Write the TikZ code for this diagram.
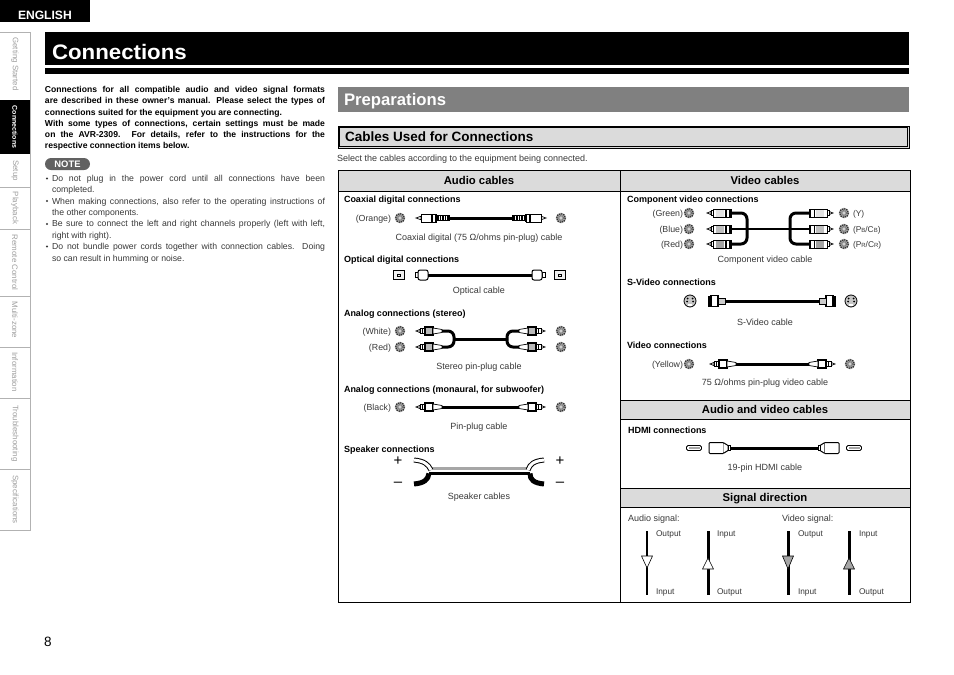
\documentclass[tikz,border=0pt]{standalone}
\usepackage{fontspec}
\setmainfont{Liberation Sans}
\newfontfamily\titlefont[FakeStretch=1.06]{Liberation Sans}
\usepackage{tikz}
\usetikzlibrary{positioning}
\definecolor{headgray}{gray}{0.86}
\definecolor{bargray}{gray}{0.5}
\definecolor{txtgray}{gray}{0.22}
\newcommand{\smsub}[1]{{\fontsize{6}{6}\selectfont #1}}

\begin{document}
\begin{tikzpicture}[x=1pt,y=-1pt,node distance=9pt,
    every node/.style={inner sep=0pt,outer sep=0pt},
    tabtxt/.style={rotate=-90,text=black!38,font=\fontsize{7.9}{8}\selectfont},
    bartxt/.style={anchor=west,font=\bfseries\fontsize{16.7}{18}\selectfont,text=white},
    headtxt/.style={yshift=-1.5pt,font=\bfseries\fontsize{11.3}{12}\selectfont,text height=8pt,text depth=2.5pt},
    conn/.style={yshift=-1pt,anchor=west,font=\bfseries\fontsize{9}{10}\selectfont,text height=7pt,text depth=2pt},
    capt/.style={yshift=-1pt,font=\fontsize{9}{10}\selectfont,text=txtgray,text height=7pt,text depth=2pt},
    colr/.style={yshift=-1pt,anchor=east,font=\fontsize{8.8}{10}\selectfont,text=txtgray,text height=7pt,text depth=2pt},
    colrr/.style={yshift=-1pt,anchor=west,font=\fontsize{8.4}{10}\selectfont,text=txtgray,text height=7pt,text depth=2pt},
    sigt/.style={yshift=-.5pt,anchor=west,font=\fontsize{8.3}{9}\selectfont,text=txtgray,text height=6pt,text depth=2pt},
    cable/.style={line width=3pt},
    pics/rcajack/.style={code={
        \fill[gray!70] (0,0) circle (5.3);
        \draw[black!80,densely dotted,line width=1.2pt] (0,0) circle (4.3);
        \draw[black!60,densely dotted,line width=.8pt] (0,0) circle (2.5);
        \fill[white] (0,0) circle (.9);}},
    pics/svjack/.style={code={
        \draw[fill=gray!45,line width=.8pt] (0,0) circle (6);
        \foreach \a/\b in {-2.5/-2.5,2.5/-2.5,-3/.5,3/.5}
            \fill (\a,\b) circle (1);
        \fill[white] (-2.2,3) rectangle (2.2,5);}},
    pics/optsock/.style={code={
        \draw[line width=.8pt,fill=gray!12] (-5.5,-4.5) rectangle (5.5,4.5);
        \draw[line width=.5pt] (-1.5,-1.2) rectangle (1.5,1.2);}},
    pics/hdmisock/.style={code={
        \draw[line width=.9pt,fill=white,rounded corners=1.5pt] (-7.5,-2.5) rectangle (7.5,2.5);
        \fill[gray!70] (-5.5,-1) rectangle (5.5,.5);}},
    pics/rcaplug/.style={code={
        \draw[line width=.7pt,fill=white] (0,0) -- (4,-1.6) -- (4,1.6) -- cycle;
        \draw[line width=.8pt,fill=white] (4,-2.8) rectangle (9,2.8);
        \draw[line width=1pt] (6.5,-2.8) -- (6.5,2.8);
        \draw[line width=1.1pt,fill=white] (9,-4) rectangle (17,4);
        \fill[#1] (10,-3.2) rectangle (16,3.2);
        \draw[line width=.7pt,fill=white] (17,-3) -- (26,-1.5) -- (26,1.5) -- (17,3) -- cycle;
        \coordinate (-end) at (26,0);}},
    pics/compplug/.style={code={
        \draw[line width=.7pt,fill=white] (0,0) -- (4,-1.6) -- (4,1.6) -- cycle;
        \draw[line width=.8pt,fill=white] (4,-2.8) rectangle (6,2.8);
        \draw[line width=1pt,fill=white] (6,-4) rectangle (24,4);
        \fill[#1] (9,-3.5) rectangle (17,3.5);
        \fill (18,-4) rectangle (19.5,4);
        \fill (22,-4) rectangle (24,4);
        \coordinate (-end) at (24,0);}},
    pics/coaxplug/.style={code={
        \draw[line width=.7pt,fill=white] (0,0) -- (5,-1.8) -- (5,1.8) -- cycle;
        \draw[line width=1pt,fill=white] (5,-4) rectangle (20,4);
        \fill (15,-4) rectangle (17,4);
        \fill (19,-4) rectangle (21,4);
        \fill (21,-3) rectangle (34,3);
        \foreach \x in {23,25.5,...,32}
            \draw[white,line width=.8pt] (\x,-2) -- (\x,2);
        \coordinate (-end) at (34,0);}},
    pics/optplug/.style={code={
        \draw[line width=.8pt] (0,-2.5) rectangle (3,2.5);
        \draw[line width=1pt,fill=white,rounded corners=2pt] (3,-5) rectangle (13,5);
        \coordinate (-end) at (13,0);}},
    pics/svplug/.style={code={
        \fill (0,-5.5) rectangle (3,5.5);
        \draw[line width=1.1pt,fill=white] (3,-5.5) rectangle (10,5.5);
        \draw[line width=.7pt,fill=gray!40] (10,-3) rectangle (17,3);
        \coordinate (-end) at (17,0);}},
    pics/hdmiplug/.style={code={
        \draw[line width=1pt,fill=white,rounded corners=1pt] (0,-5.5) rectangle (15,5.5);
        \draw[line width=1pt,fill=white] (15,-5) -- (19,-2.5) -- (19,2.5) -- (15,5);
        \draw[line width=.8pt,fill=white] (19,-2.5) rectangle (21,2.5);
        \coordinate (-end) at (21,0);}}]
    \useasboundingbox (0,0) rectangle (954,675);

    % page head
    \fill (0,0) rectangle (90,22);
    \node[anchor=west,text=white,font=\bfseries\fontsize{12.1}{13}\selectfont] (english) at (18,15) {ENGLISH};
    \fill (45,32) rectangle (909,65);
    \fill (45,68) rectangle (909,74);
    \node[anchor=west,text=white,font=\titlefont\bfseries\fontsize{21}{24}\selectfont] (title) at (52,52) {Connections};

    % side tabs
    \draw[gray!60,line width=.8pt] (0,32) -- (30,32) -- (30,530) -- (0,530);
    \foreach \y in {187,229,296,347,398,469}
        \draw[gray!60,line width=.8pt] (0,\y) -- (30,\y);
    \fill (0,100) rectangle (30,154);
    \foreach \nm/\y/\txt in {tabstart/64/Getting Started,tabsetup/170.5/Setup,tabplay/208/Playback,tabremote/262.5/Remote Control,tabzone/320/Multi-zone,tabinfo/372/Information,tabtrouble/433.5/Troubleshooting,tabspec/499.5/Specifications}
        \node[tabtxt] (\nm) at (15,\y) {\txt};
    \node[tabtxt,text=white,font=\bfseries\fontsize{7}{8}\selectfont] (tabconn) at (15,127) {Connections};

    % left text
    \node[anchor=north west,text width=280pt,align=justify,font=\bfseries\fontsize{8.6}{11.2}\selectfont] (intro) at (45,86.5) {
        Connections for all compatible audio and video signal formats\linebreak
        are described in these owner’s manual. Please select the types of\linebreak
        connections suited for the equipment you are connecting.\\
        With some types of connections, certain settings must be made\linebreak
        on the AVR-2309. For details, refer to the instructions for the\linebreak
        respective connection items below.};
    \node[fill=black!62,rounded corners=6pt,minimum width=45pt,minimum height=12pt,text=white,font=\bfseries\fontsize{9.4}{10}\selectfont] (note) at (67.5,164) {NOTE};
    \node[text width=273pt,align=justify,text=txtgray,font=\fontsize{8.7}{11.4}\selectfont] (notes) [below=5pt of note.south west,anchor=north west,xshift=7pt] {
        Do not plug in the power cord until all connections have been\linebreak
        completed.\\
        When making connections, also refer to the operating instructions of\linebreak
        the other components.\\
        Be sure to connect the left and right channels properly (left with left,\linebreak
        right with right).\\
        Do not bundle power cords together with connection cables. Doing\linebreak
        so can result in humming or noise.};
    \foreach \y in {178.5,201,224,246.5}
        \fill[txtgray] (47,\y) circle (1.1);

    % preparations
    \fill[bargray] (338,87) rectangle (909,112);
    \node[bartxt] (prep) at (344,101.5) {Preparations};
    \draw[fill=headgray,line width=.7pt] (338,126) rectangle (909,148);
    \draw[line width=.7pt] (339.5,127.5) rectangle (907.5,146.5);
    \node[anchor=west,font=\bfseries\fontsize{13.5}{15}\selectfont] (cables) at (345,137) {Cables Used for Connections};
    \node[capt,anchor=west] (select) at (337,157.5) {Select the cables according to the equipment being connected.};

    % table
    \fill[headgray] (338,170) rectangle (910,191);
    \fill[headgray] (620,400) rectangle (910,419);
    \fill[headgray] (620,488) rectangle (910,507);
    \draw[line width=.8pt] (338,170) rectangle (910,602);
    \draw[line width=.8pt] (620,170) -- (620,602);
    \draw[line width=.8pt] (338,191) -- (910,191);
    \foreach \y in {400,419,488,507}
        \draw[line width=.8pt] (620,\y) -- (910,\y);
    \node[headtxt] (audiohead) at (479,180) {Audio cables};
    \node[headtxt] (videohead) at (765,180) {Video cables};
    \node[headtxt] (avhead) at (765,409.5) {Audio and video cables};
    \node[headtxt] (sighead) at (765,497.5) {Signal direction};

    % audio cables
    \node[conn] (coaxhead) at (344,199) {Coaxial digital connections};
    \node[conn] (opthead) at (344,259) {Optical digital connections};
    \node[conn] (stereohead) at (344,313) {Analog connections (stereo)};
    \node[conn] (monohead) at (344,389) {Analog connections (monaural, for subwoofer)};
    \node[conn] (spkhead) at (344,449) {Speaker connections};
    \foreach \nm/\x/\y in {orange/400/218,orangeb/561/218,white/400/331,whiteb/561/331,red/400/347,redb/561/347,black/400/407,blackb/561/407,green/689/213,greenb/844/213,blue/689/229,blueb/844/229,cr/689/244,crb/844/244,yellow/689/364,yellowb/850/364}
        \coordinate (\nm) at (\x,\y);
    \foreach \nm in {orange,orangeb,white,whiteb,red,redb,black,blackb,green,greenb,blue,blueb,cr,crb,yellow,yellowb}
        \pic at (\nm) {rcajack};
    \node[colr] (orangetxt) [left=9pt of orange] {(Orange)};
    \node[colr] (whitetxt) [left=9pt of white] {(White)};
    \node[colr] (redtxt) [left=9pt of red] {(Red)};
    \node[colr] (blacktxt) [left=9pt of black] {(Black)};

    \pic (cl) at (416,218) {coaxplug};
    \pic[xscale=-1] (cr) at (546,218) {coaxplug};
    \draw[cable] (cl-end) -- (cr-end);
    \node[capt] (coaxcap) at (479,237) {Coaxial digital (75 Ω/ohms pin-plug) cable};

    \pic at (399,275) {optsock};
    \pic at (560,275) {optsock};
    \pic (ol) at (415,275) {optplug};
    \pic[xscale=-1] (or) at (545,275) {optplug};
    \draw[cable] (ol-end) -- (or-end);
    \node[capt] (optcap) at (479,290) {Optical cable};

    \pic (wl) at (416,331) {rcaplug=gray!55};
    \pic (rl) at (416,347) {rcaplug=gray!55};
    \pic[xscale=-1] (wr) at (545,331) {rcaplug=gray!55};
    \pic[xscale=-1] (rr) at (545,347) {rcaplug=gray!55};
    \coordinate (stereol) at (454,339);
    \coordinate (stereor) at (507,339);
    \draw[cable,rounded corners=6pt] (wl-end) -| (stereol);
    \draw[cable,rounded corners=6pt] (rl-end) -| (stereol);
    \draw[cable,rounded corners=6pt] (wr-end) -| (stereor);
    \draw[cable,rounded corners=6pt] (rr-end) -| (stereor);
    \draw[cable] (stereol) -- (stereor);
    \node[capt] (stereocap) at (479,366) {Stereo pin-plug cable};

    \pic (ml) at (416,407) {rcaplug=white};
    \pic[xscale=-1] (mr) at (545,407) {rcaplug=white};
    \draw[cable] (ml-end) -- (mr-end);
    \node[capt] (monocap) at (479,426) {Pin-plug cable};

    \node[font=\fontsize{15}{15}\selectfont] (plusl) at (398,461) {+};
    \node[font=\fontsize{15}{15}\selectfont] (plusr) at (560,461) {+};
    \node[font=\fontsize{15}{15}\selectfont] (minusl) at (398,484) {–};
    \node[font=\fontsize{15}{15}\selectfont] (minusr) at (560,484) {–};
    \coordinate (spkw1) at (429,468.5);
    \coordinate (spkw2) at (530,468.5);
    \coordinate (spkb1) at (429,473.5);
    \coordinate (spkb2) at (530,473.5);
    \draw[line width=2.2pt,gray!70] (spkw1) -- (spkw2);
    \draw[line width=3.5pt] (spkb1) -- (spkb2);
    \draw[line width=1pt,double=white,double distance=3pt] (414,460) .. controls (424,461) and (428,464) .. (431,470);
    \draw[line width=1pt,double=white,double distance=3pt] (544,460) .. controls (534,461) and (530,464) .. (528,470);
    \draw[line width=5pt] (414,484) .. controls (424,483) and (428,480) .. (spkb1);
    \draw[line width=5pt] (544,484) .. controls (534,483) and (530,480) .. (spkb2);
    \node[capt] (spkcap) at (479,496) {Speaker cables};

    % video cables
    \node[conn] (comphead) at (627,199) {Component video connections};
    \node[conn] (svhead) at (627,282) {S-Video connections};
    \node[conn] (vidhead) at (627,345) {Video connections};
    \node[colr] (greentxt) [left=6pt of green] {(Green)};
    \node[colr] (bluetxt) [left=6pt of blue] {(Blue)};
    \node[colr] (crtxt) [left=6pt of cr] {(Red)};
    \node[colr] (yellowtxt) [left=6pt of yellow] {(Yellow)};
    \node[colrr] (ytxt) [right=9pt of greenb] {(Y)};
    \node[colrr] (pbtxt) [right=9pt of blueb] {(P\smsub{B}/C\smsub{B})};
    \node[colrr] (prtxt) [right=9pt of crb] {(P\smsub{R}/C\smsub{R})};

    \pic (gl) at (707,213) {compplug=gray!22};
    \pic (bl) at (707,229) {compplug=gray!50};
    \pic (kl) at (707,244) {compplug=gray!72};
    \pic[xscale=-1] (gr) at (833,213) {compplug=gray!22};
    \pic[xscale=-1] (br) at (833,229) {compplug=gray!50};
    \pic[xscale=-1] (kr) at (833,244) {compplug=gray!72};
    \coordinate (compl) at (747,229);
    \coordinate (compr) at (790,229);
    \draw[cable,rounded corners=6pt] (gl-end) -| (compl);
    \draw[cable,rounded corners=6pt] (kl-end) -| (compl);
    \draw[cable,rounded corners=6pt] (gr-end) -| (compr);
    \draw[cable,rounded corners=6pt] (kr-end) -| (compr);
    \draw[line width=2pt] (bl-end) -- (br-end);
    \node[capt] (compcap) at (765,259) {Component video cable};

    \pic at (690,301) {svjack};
    \pic at (851,301) {svjack};
    \pic (sl) at (708,301) {svplug};
    \pic[xscale=-1] (sr) at (836,301) {svplug};
    \draw[cable] (sl-end) -- (sr-end);
    \node[capt] (svcap) at (765,322) {S-Video cable};

    \pic (yl) at (710,364) {rcaplug=white};
    \pic[xscale=-1] (yr) at (835,364) {rcaplug=white};
    \draw[cable] (yl-end) -- (yr-end);
    \node[capt] (vidcap) at (765,382) {75 Ω/ohms pin-plug video cable};

    % hdmi
    \node[conn] (hdmihead) at (628,430) {HDMI connections};
    \pic at (694,448) {hdmisock};
    \pic at (854,448) {hdmisock};
    \pic (hl) at (709,448) {hdmiplug};
    \pic[xscale=-1] (hr) at (839,448) {hdmiplug};
    \draw[cable] (hl-end) -- (hr-end);
    \node[capt] (hdmicap) at (765,467) {19-pin HDMI cable};

    % signal direction
    \node[capt,anchor=west] (audiosig) at (628,518) {Audio signal:};
    \node[capt,anchor=west] (videosig) at (782,518) {Video signal:};
    \foreach \nm/\x/\w/\c/\a/\b in {sa/647/2/white/556/568,sb/708/3/white/569/558,sc/788/3/gray!70/556/569,sd/849/3/gray!70/569/558} {
        \coordinate (\nm top) at (\x,531);
        \coordinate (\nm bot) at (\x,595);
        \draw[line width=\w pt] (\nm top) -- (\nm bot);
        \draw[line width=.6pt,fill=\c] (\x-5.5,\a) -- (\x+5.5,\a) -- (\x,\b) -- cycle;
    }
    \foreach \nm/\x/\u/\v in {sat/656/Output/Input,sbt/717/Input/Output,sct/798/Output/Input,sdt/859/Input/Output} {
        \node[sigt] (\nm1) at (\x,533.5) {\u};
        \node[sigt] (\nm2) at (\x,591.5) {\v};
    }

    \node[anchor=west,font=\fontsize{13.5}{14}\selectfont] (page) at (44,641.5) {8};
\end{tikzpicture}
\end{document}
